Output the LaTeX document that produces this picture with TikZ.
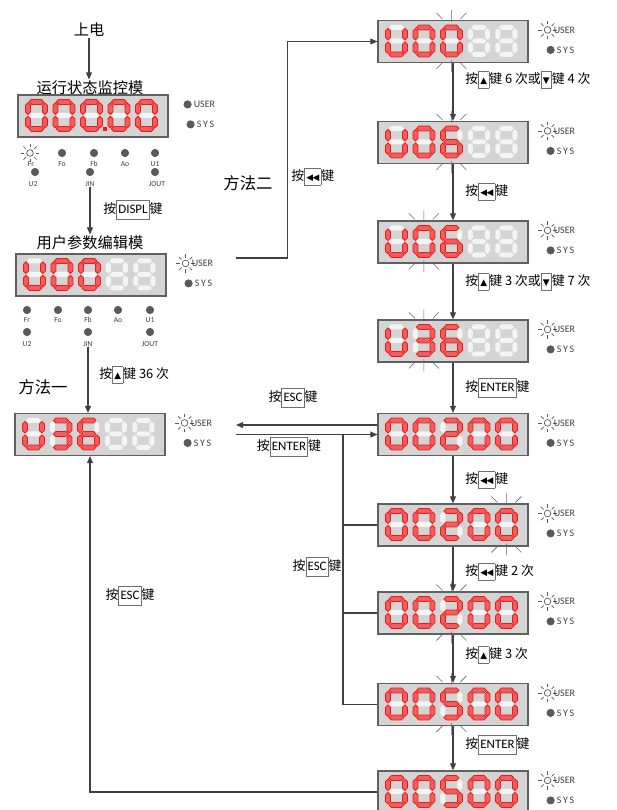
\documentclass[tikz,border=0pt]{standalone}
\usepackage{fontspec}
\setmainfont{Noto Sans CJK SC}
\newfontfamily\lat{Carlito}
\newfontfamily\sym{DejaVu Sans}
\usetikzlibrary{arrows.meta,positioning,calc}
\definecolor{wirecol}{RGB}{64,64,64}
\definecolor{panelbg}{RGB}{212,212,212}
\definecolor{panelrim}{RGB}{96,96,96}
\definecolor{segred}{RGB}{250,20,20}
\definecolor{keyrim}{RGB}{110,110,110}
\definecolor{ledon}{RGB}{90,90,90}
\setlength\fboxsep{1.2pt}
\setlength\fboxrule{0.6pt}

% seven segment pieces, local px units
\newcommand\segH[2]{\filldraw[#2] (3.5,#1) -- (6,#1-2.5) -- (16,#1-2.5) -- (18.5,#1) -- (16,#1+2.5) -- (6,#1+2.5) -- cycle;}
\newcommand\segV[4]{\filldraw[#4] (#1,#2) -- (#1+2.5,#2+2.5) -- (#1+2.5,#3-2.5) -- (#1,#3) -- (#1-2.5,#3-2.5) -- (#1-2.5,#2+2.5) -- cycle;}
\newcommand\sega[1]{\segH{2.5}{#1}}
\newcommand\segb[1]{\segV{19.5}{3.5}{15}{#1}}
\newcommand\segc[1]{\segV{19.5}{17}{28.5}{#1}}
\newcommand\segd[1]{\segH{29.5}{#1}}
\newcommand\sege[1]{\segV{2.5}{17}{28.5}{#1}}
\newcommand\segf[1]{\segV{2.5}{3.5}{15}{#1}}
\newcommand\segg[1]{\segH{16}{#1}}
\newcommand\segx[1]{}
\def\cZ{a,b,c,d,e,f}
\def\cT{a,b,g,e,d}
\def\cH{a,b,g,c,d}
\def\cF{a,f,g,c,d}
\def\cS{a,f,g,e,c,d}
\def\cU{b,c,d,e,f}
\def\cN{x}
\newcommand\digit[3]{\begin{scope}[shift={(#1,#2)}]
  \foreach \s in {a,b,c,d,e,f,g} {\csname seg\s\endcsname{ghost}}
  \foreach \s in #3 {\csname seg\s\endcsname{lit}}
  \end{scope}}
\newcommand\panel[7]{\node[panel] (#1) at (#2) {};
  \begin{scope}[shift={(#1.north west)}]
  \digit{8}{5}{#3}\digit{35.5}{5}{#4}\digit{63}{5}{#5}\digit{90.5}{5}{#6}\digit{118}{5}{#7}
  \end{scope}}
\newcommand\blink[2]{\begin{scope}[shift={(#1.north west)}]
  \pgfmathsetmacro\cx{19+27.5*#2}
  \draw[ray] (\cx,-10) -- (\cx,2) (\cx-15,-7) -- (\cx-9,-1) (\cx+15,-7) -- (\cx+9,-1)
    (\cx,40) -- (\cx,52) (\cx-15,49) -- (\cx-9,43) (\cx+15,49) -- (\cx+9,43);
  \end{scope}}
\newcommand\sunat[1]{\draw[ledrim] (#1) circle[radius=0.1cm];
  \foreach \a in {0,45,...,315} \draw[ledrim] ($(#1)+(\a:0.17cm)$) -- ($(#1)+(\a:0.28cm)$);}
\newcommand\dotat[1]{\filldraw[ledrim,fill=ledon] (#1) circle[radius=0.11cm];}
\newcommand\leds[2]{\coordinate (#1u) at ($(#1.north east)+(19,10)$);
  \coordinate (#1s) at ($(#1.north east)+(22,30)$);
  \csname #2at\endcsname{#1u}\dotat{#1s}
  \node[ledtxt,anchor=west] (#1ut) at ($(#1u)+(6,0)$) {USER};
  \node[ledtxt,anchor=west] (#1st) at ($(#1s)+(6,0)$) {S\,Y\,S};}
\newcommand\key[1]{\fcolorbox{keyrim}{white}{\lat\strut#1}}
\newcommand\tri[1]{\fcolorbox{keyrim}{white}{\rule[-2.5pt]{0pt}{11pt}\sym\fontsize{7.5}{8}\selectfont#1}}

\begin{document}
\begin{tikzpicture}[x=0.03cm,y=-0.03cm,
  panel/.style={draw=panelrim,fill=panelbg,line width=1pt,minimum width=4.5cm,
    minimum height=1.26cm,inner sep=0pt},
  ghost/.style={fill=white!75!panelbg,draw=none},
  lit/.style={draw=segred,fill=segred!60!panelbg,line width=0.7pt},
  link/.style={draw=wirecol,line width=0.9pt},
  arr/.style={link,-{Triangle[length=6pt,width=5pt]}},
  ray/.style={draw=gray!80!black,line width=0.5pt},
  ledrim/.style={draw=gray!70!black,line width=0.6pt},
  ledtxt/.style={font=\lat\fontsize{8.5}{9}\selectfont,text=black!75,inner sep=0pt},
  ledlab/.style={font=\lat\fontsize{6.5}{7}\selectfont,text=black!75,inner sep=0pt},
  lab/.style={font=\fontsize{11}{13}\selectfont,inner sep=1pt},
  head/.style={font=\fontsize{13}{15}\selectfont,inner sep=1pt},
  big/.style={font=\fontsize{14}{16}\selectfont,inner sep=1pt}]
\useasboundingbox (0,0) rectangle (617,810);
\clip (0,0) rectangle (617,810);

% left column
\node[head] (pw) at (89,30) {上电};
\node[head] (t1) at (90,88) {运行状态监控模};
\panel{d1}{93,116}{\cZ}{\cZ}{\cZ}{\cZ}{\cZ}
\fill[segred] ($(d1.north west)+(86,33)$) rectangle ++(4,4);
\leds{d1}{dot}
\sunat{30,153}
\foreach \x in {62,94,125,155} \dotat{\x,153};
\foreach \x/\t in {31/Fr,62/Fo,94/Fb,125/Ao,155/U1} \node[ledlab] (a\t) at (\x,164) {\t};
\foreach \x in {35,90,155} \dotat{\x,172};
\foreach \x/\t in {33/U2,90/JIN,157/JOUT} \node[ledlab] (a\t) at (\x,184) {\t};
\draw[arr] (pw) -- (pw |- t1.north);

\node[head] (t2) at (90,243) {用户参数编辑模};
\draw[arr] (aJIN) -- (aJIN |- t2.north);
\node[lab,anchor=west] at (102,210) {按\key{DISPL}键};
\panel{d2}{91,275}{\cU}{\cZ}{\cZ}{\cN}{\cN}
\leds{d2}{sun}
\foreach \x in {27,58,88,118,150} \dotat{\x,310};
\foreach \x/\t in {27/Fr,58/Fo,88/Fb,118/Ao,150/U1} \node[ledlab] (b\t) at (\x,320) {\t};
\foreach \x in {27,88,150} \dotat{\x,332};
\foreach \x/\t in {27/U2,88/JIN,150/JOUT} \node[ledlab] (b\t) at (\x,344) {\t};

\panel{d3}{90,434.5}{\cU}{\cH}{\cS}{\cN}{\cN}
\leds{d3}{sun}
\draw[arr] (bJIN) -- (bJIN |- d3.north);
\node[lab,anchor=west] at (98,375) {按\tri{▲}键 36 次};
\node[big] at (43,387) {方法一};

% right column
\panel{r1}{453,41.5}{\cU}{\cZ}{\cZ}{\cN}{\cN}
\panel{r2}{453,142.5}{\cU}{\cZ}{\cS}{\cN}{\cN}
\panel{r3}{453,242}{\cU}{\cZ}{\cS}{\cN}{\cN}
\panel{r4}{453,341}{\cU}{\cH}{\cS}{\cN}{\cN}
\panel{r5}{453,434.5}{\cZ}{\cZ}{\cT}{\cZ}{\cZ}
\panel{r6}{453,525}{\cZ}{\cZ}{\cT}{\cZ}{\cZ}
\panel{r7}{453,613}{\cZ}{\cZ}{\cT}{\cZ}{\cZ}
\panel{r8}{453,704.5}{\cZ}{\cZ}{\cF}{\cZ}{\cZ}
\panel{r9}{453,792}{\cZ}{\cZ}{\cF}{\cZ}{\cZ}
\foreach \r in {r1,r2,r3,r4,r5,r6,r7,r8,r9} {\leds{\r}{sun}}
\blink{r1}{2}
\blink{r2}{2}
\blink{r3}{1}
\blink{r4}{1}
\blink{r6}{4}
\blink{r7}{2}
\blink{r8}{2}
\draw[arr] (r1) -- (r2);
\draw[arr] (r2) -- (r3);
\draw[arr] (r3) -- (r4);
\draw[arr] (r4) -- (r5);
\draw[arr] (r5) -- (r6);
\draw[arr] (r6) -- (r7);
\draw[arr] (r7) -- (r8);
\draw[arr] (r8) -- (r9);
\node[lab,anchor=west] at (464,80) {按\tri{▲}键 6 次或\tri{▼}键 4 次};
\node[lab,anchor=west] at (464,192) {按\tri{◀\kern-0.5pt◀}键};
\node[lab,anchor=west] at (464,282) {按\tri{▲}键 3 次或\tri{▼}键 7 次};
\node[lab,anchor=west] at (464,388) {按\key{ENTER}键};
\node[lab,anchor=west] at (464,480) {按\tri{◀\kern-0.5pt◀}键};
\node[lab,anchor=west] at (464,572) {按\tri{◀\kern-0.5pt◀}键 2 次};
\node[lab,anchor=west] at (464,655) {按\tri{▲}键 3 次};
\node[lab,anchor=west] at (464,745) {按\key{ENTER}键};

% method two
\coordinate (m2) at (236,258);
\draw[arr] (m2) -| ($(r1.west)+(-90,0)$) -- (r1.west);
\node[big] at (248,183) {方法二};
\node[lab,anchor=west] at (290,177) {按\tri{◀\kern-0.5pt◀}键};

% links between d3 and r5
\coordinate (esc) at (236,425);
\coordinate (ent) at (236,434.5);
\draw[arr] (esc -| r5.west) -- (esc);
\draw[arr] (ent) -- (r5.west);
\node[lab] at (293,398) {按\key{ESC}键};
\node[lab] at (289,447) {按\key{ENTER}键};
\coordinate (bus) at (343,434.5);
\draw[link] (bus) |- (r8.west);
\draw[link] (bus |- r6.west) -- (r6.west);
\draw[link] (bus |- r7.west) -- (r7.west);
\node[lab,anchor=east] at (343,567) {按\key{ESC}键};

% return
\draw[arr] (r9.west) -| (d3.south);
\node[lab] at (130,596) {按\key{ESC}键};
\end{tikzpicture}
\end{document}
